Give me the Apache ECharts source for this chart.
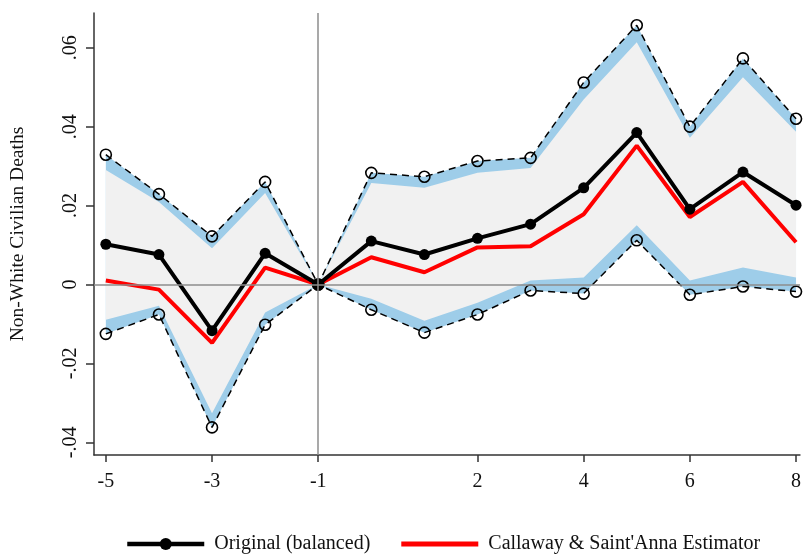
<!DOCTYPE html>
<html>
<head>
<meta charset="utf-8">
<script src="https://cdn.jsdelivr.net/npm/echarts@6/dist/echarts.min.js"></script>
<style>html,body{margin:0;padding:0;background:#fff}#c{width:804px;height:556px}</style>
</head>
<body>
<div id="c"></div>
<script>
// Event time
var eventTime = [-5, -4, -3, -2, -1, 0, 1, 2, 3, 4, 5, 6, 7, 8];
// Original (balanced) point estimates
var original = [0.0102, 0.0076, -0.0117, 0.0079, 0, 0.0110, 0.0076, 0.0117, 0.0153, 0.0245, 0.0385, 0.0191, 0.0285, 0.0201];
// Callaway & Sant'Anna estimates
var callaway = [0.0010, -0.0013, -0.0148, 0.0043, 0, 0.0069, 0.0031, 0.0094, 0.0097, 0.0178, 0.0352, 0.0171, 0.0260, 0.0107];
// Original CI (dashed, open circles)
var ciUpper = [0.0329, 0.0229, 0.0122, 0.0260, 0, 0.0283, 0.0273, 0.0313, 0.0321, 0.0512, 0.0657, 0.0400, 0.0573, 0.0420];
var ciLower = [-0.0125, -0.0076, -0.0362, -0.0102, 0, -0.0064, -0.0122, -0.0076, -0.0015, -0.0023, 0.0112, -0.0026, -0.0005, -0.0018];
// Inner (grey) band
var bandUpper = [0.0290, 0.0209, 0.0092, 0.0232, 0, 0.0257, 0.0245, 0.0283, 0.0295, 0.0469, 0.0614, 0.0372, 0.0525, 0.0387];
var bandLower = [-0.0089, -0.0054, -0.0326, -0.0071, 0, -0.0036, -0.0092, -0.0046, 0.0010, 0.0018, 0.0150, 0.0010, 0.0043, 0.0018];
// Tick labels
var xTicks = [-5, -3, -1, 2, 4, 6, 8];
var yTicks = [-0.04, -0.02, 0, 0.02, 0.04, 0.06];

function pairs(arr) { return eventTime.map(function (t, i) { return [t, arr[i]]; }); }

function bandSeries(upper, lower, fill) {
  return {
    type: 'custom', silent: true, data: [[eventTime[0], 0]],
    renderItem: function (params, api) {
      var pts = [];
      for (var i = 0; i < eventTime.length; i++) pts.push(api.coord([eventTime[i], upper[i]]));
      for (var j = eventTime.length - 1; j >= 0; j--) pts.push(api.coord([eventTime[j], lower[j]]));
      return { type: 'polygon', shape: { points: pts }, style: { fill: fill, stroke: null } };
    }
  };
}

var FONT = 'Liberation Serif';
var chart = echarts.init(document.getElementById('c'), null, { renderer: 'canvas' });

chart.setOption({
  animation: false,
  backgroundColor: '#fff',
  textStyle: { fontFamily: FONT },
  grid: { left: 88, top: 13, width: 716, height: 442, containLabel: false },
  xAxis: {
    type: 'value', min: -5.223, max: 8.074,
    axisLine: { show: true, onZero: false, lineStyle: { color: '#333', width: 1.5 } },
    axisTick: { show: true, length: 7, customValues: xTicks, lineStyle: { color: '#333', width: 1.5 } },
    axisLabel: { customValues: xTicks, margin: 17, fontFamily: FONT, fontSize: 20, color: '#111' },
    splitLine: { show: false }
  },
  yAxis: {
    type: 'value', min: -0.0432, max: 0.0688,
    name: 'Non-White Civilian Deaths', nameLocation: 'middle', nameRotate: 90, nameGap: 66,
    nameTextStyle: { fontFamily: FONT, fontSize: 19.5, color: '#111' },
    axisLine: { show: true, onZero: false, lineStyle: { color: '#333', width: 1.5 } },
    axisTick: { show: true, length: 8, customValues: yTicks, lineStyle: { color: '#333', width: 1.5 } },
    axisLabel: {
      customValues: yTicks, rotate: 90, margin: 13, fontFamily: FONT, fontSize: 20, color: '#111',
      formatter: function (v) {
        if (Math.abs(v) < 1e-9) return '0';
        var s = Math.abs(v).toFixed(2).replace(/^0/, '');
        return (v < 0 ? '-' : '') + s;
      }
    },
    splitLine: { show: false }
  },
  legend: {
    top: 529, left: 120, itemWidth: 77, itemHeight: 15, itemGap: 31,
    textStyle: { fontFamily: FONT, fontSize: 20, color: '#111', padding: [0, 0, 0, 5] },
    data: [
      { name: 'Original (balanced)', lineStyle: { width: 4.5 } },
      { name: "Callaway & Saint'Anna Estimator", icon: 'path://M0,0h77v5h-77z' }
    ]
  },
  series: [
    bandSeries(ciUpper, ciLower, '#9ecde9'),
    bandSeries(bandUpper, bandLower, '#f1f1f1'),
    { name: 'ciUpper', type: 'line', data: pairs(ciUpper), symbol: 'circle', symbolSize: 11,
      itemStyle: { color: 'rgba(0,0,0,0)', borderColor: '#000', borderWidth: 1.6 },
      lineStyle: { color: '#000', width: 1.5, type: [7, 5] },
      markLine: {
        silent: true, symbol: 'none', label: { show: false },
        lineStyle: { color: '#8c8c8c', width: 1.5, type: 'solid' },
        data: [{ yAxis: 0 }, { xAxis: -1 }]
      }
    },
    { name: 'ciLower', type: 'line', data: pairs(ciLower), symbol: 'circle', symbolSize: 11,
      itemStyle: { color: 'rgba(0,0,0,0)', borderColor: '#000', borderWidth: 1.6 },
      lineStyle: { color: '#000', width: 1.5, type: [7, 5] } },
    { name: "Callaway & Saint'Anna Estimator", type: 'line', data: pairs(callaway), symbol: 'none',
      itemStyle: { color: '#ff0000' }, lineStyle: { color: '#ff0000', width: 4 } },
    { name: 'Original (balanced)', type: 'line', data: pairs(original), symbol: 'circle', symbolSize: 11,
      itemStyle: { color: '#000' }, lineStyle: { color: '#000', width: 4 } }
  ]
});
</script>
</body>
</html>
